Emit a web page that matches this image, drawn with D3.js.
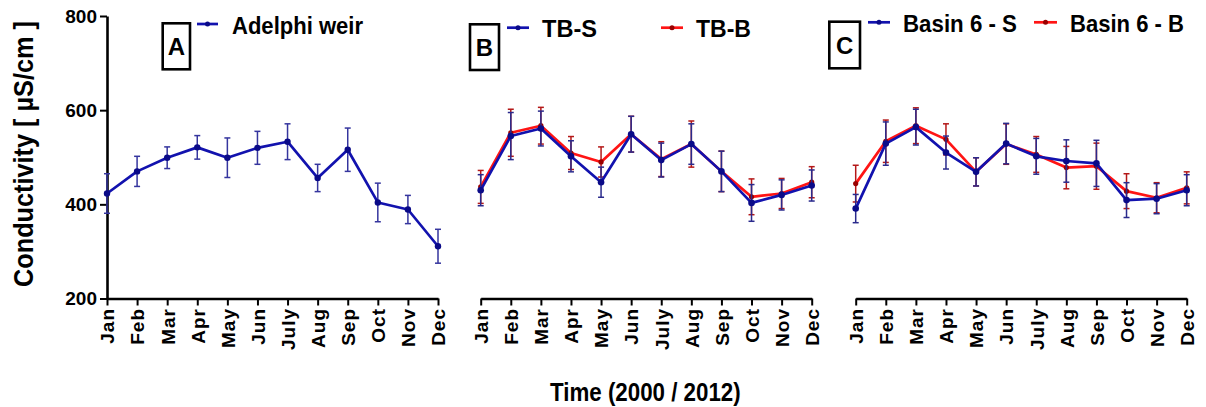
<!DOCTYPE html>
<html>
<head>
<meta charset="utf-8">
<script src="https://cdn.jsdelivr.net/npm/d3@7"></script>
<style>
  html, body { margin: 0; padding: 0; background: #fff; }
  svg { display: block; font-family: "Liberation Sans", Arial, sans-serif; font-weight: bold; }
</style>
</head>
<body>
<svg id="chart" width="1206" height="407"></svg>
<script>
// Monthly conductivity (µS/cm), mean ± error
const months = ["Jan","Feb","Mar","Apr","May","Jun","July","Aug","Sep","Oct","Nov","Dec"];
const yTicks = [200, 400, 600, 800];

const adelphi    = [423, 470, 499, 521, 499, 520, 533, 456, 516, 404, 389, 311];
const adelphiErr = [42, 32, 23, 25, 42, 35, 38, 29, 46, 41, 30, 36];

const tbS    = [430, 545, 561, 502, 447, 549, 494, 528, 470, 403, 420, 440];
const tbSErr = [33, 50, 37, 33, 32, 38, 36, 43, 43, 39, 32, 33];
const tbB    = [437, 552, 567, 509, 490, 549, 496, 528, 470, 416, 423, 447];
const tbBErr = [35, 50, 39, 35, 32, 38, 37, 49, 43, 38, 32, 33];

const basinS    = [391, 529, 564, 510, 469, 529, 502, 492, 487, 409, 412, 430];
const basinSErr = [30, 46, 38, 35, 30, 43, 38, 45, 49, 37, 32, 33];
const basinB    = [444, 534, 567, 538, 469, 528, 506, 478, 481, 428, 414, 435];
const basinBErr = [39, 45, 38, 33, 30, 43, 38, 45, 49, 37, 32, 34];

const BLUE = "#1212ae", BLUE_ERR = "#2a2a8c", BLUE_DOT = "#0a0a88";
const RED = "#ff1414", RED_ERR = "#b41818", RED_DOT = "#9a0000";

const svg = d3.select("#chart");
const y = d3.scaleLinear().domain([200, 800]).range([298.5, 16]);
const panelWidth = 331;

const panels = [
  { x0: 107, letter: "A", box: [162.7, 23.3, 27.3, 46], yAxis: true,
    series: [{ name: "Adelphi weir", v: adelphi, e: adelphiErr, c: BLUE, ec: "#35359e", dc: BLUE_DOT, r: 3.2,
               leg: { x1: 197, x2: 218, y: 24, tx: 232, ty: 34, w: 131 } }] },
  { x0: 480.7, letter: "B", box: [470, 24.3, 29, 45.7],
    series: [
      { name: "TB-B", v: tbB, e: tbBErr, c: RED, ec: RED_ERR, dc: RED_DOT, r: 2.6,
        leg: { x1: 661, x2: 683, y: 27.7, tx: 696, ty: 36.7, w: 55 } },
      { name: "TB-S", v: tbS, e: tbSErr, c: BLUE, ec: BLUE_ERR, dc: BLUE_DOT, r: 3.3,
        leg: { x1: 507, x2: 529, y: 27.7, tx: 542, ty: 36.7, w: 55 } }] },
  { x0: 855.7, letter: "C", box: [829.3, 21.7, 30.7, 46.6],
    series: [
      { name: "Basin 6 - B", v: basinB, e: basinBErr, c: RED, ec: RED_ERR, dc: RED_DOT, r: 2.6,
        leg: { x1: 1034, x2: 1057, y: 22.3, tx: 1070, ty: 31.7, w: 114 } },
      { name: "Basin 6 - S", v: basinS, e: basinSErr, c: BLUE, ec: BLUE_ERR, dc: BLUE_DOT, r: 3.3,
        leg: { x1: 868, x2: 890, y: 22.3, tx: 903, ty: 31.7, w: 114 } }] }
];

panels.forEach(p => {
  const x = d3.scalePoint().domain(months).range([p.x0, p.x0 + panelWidth]);
  const g = svg.append("g");

  // x axis with rotated month labels
  const xAxis = g.append("g")
    .attr("transform", "translate(0,298.5)")
    .call(d3.axisBottom(x).tickSize(7).tickSizeOuter(0));
  xAxis.select(".domain").attr("stroke", "#000").attr("stroke-width", 2.6);
  xAxis.selectAll(".tick line").attr("stroke", "#000").attr("stroke-width", 2);
  xAxis.selectAll(".tick text")
    .attr("transform", "rotate(-90)")
    .attr("text-anchor", "end")
    .attr("x", -9.5)
    .attr("y", 0)
    .attr("dy", "0.36em")
    .attr("fill", "#000")
    .style("font-size", "19px")
    .style("font-weight", "bold")
    .style("letter-spacing", "1px")
    .style("font-family", "'Liberation Sans', Arial, sans-serif");

  if (p.yAxis) {
    const yAxis = g.append("g")
      .attr("transform", `translate(${p.x0},0)`)
      .call(d3.axisLeft(y).tickValues(yTicks).tickSize(7).tickSizeOuter(0).tickPadding(3));
    yAxis.select(".domain").attr("stroke", "#000").attr("stroke-width", 2.6);
    yAxis.selectAll(".tick line").attr("stroke", "#000").attr("stroke-width", 2);
    yAxis.selectAll(".tick text")
      .attr("fill", "#000")
      .style("font-size", "19px")
      .style("font-weight", "bold")
      .style("font-family", "'Liberation Sans', Arial, sans-serif");
  }

  // panel letter box
  g.append("rect")
    .attr("x", p.box[0]).attr("y", p.box[1])
    .attr("width", p.box[2]).attr("height", p.box[3])
    .attr("fill", "none").attr("stroke", "#000").attr("stroke-width", 2.6);
  g.append("text")
    .attr("x", p.box[0] + p.box[2] / 2)
    .attr("y", p.box[1] + p.box[3] / 2 + 8.5)
    .attr("text-anchor", "middle")
    .style("font-size", "24px")
    .text(p.letter);

  p.series.forEach(s => {
    const pts = s.v.map((v, i) => ({ m: months[i], v, e: s.e[i] }));

    // error bars
    const eb = g.append("g");
    eb.selectAll("line.v").data(pts).join("line")
      .attr("x1", d => x(d.m)).attr("x2", d => x(d.m))
      .attr("y1", d => y(d.v + d.e)).attr("y2", d => y(d.v - d.e))
      .attr("stroke", s.ec).attr("stroke-width", 1.5);
    ["top", "bottom"].forEach(k => {
      eb.selectAll("line." + k).data(pts).join("line")
        .attr("x1", d => x(d.m) - 3).attr("x2", d => x(d.m) + 3)
        .attr("y1", d => y(k === "top" ? d.v + d.e : d.v - d.e))
        .attr("y2", d => y(k === "top" ? d.v + d.e : d.v - d.e))
        .attr("stroke", s.ec).attr("stroke-width", 1.5);
    });

    // mean line and markers
    g.append("path")
      .datum(pts)
      .attr("fill", "none")
      .attr("stroke", s.c)
      .attr("stroke-width", 2.7)
      .attr("stroke-linejoin", "round")
      .attr("d", d3.line().x(d => x(d.m)).y(d => y(d.v)));
    g.append("g").selectAll("circle").data(pts).join("circle")
      .attr("cx", d => x(d.m)).attr("cy", d => y(d.v))
      .attr("r", s.r).attr("fill", s.dc);

    // legend entry
    const L = s.leg;
    g.append("line")
      .attr("x1", L.x1).attr("x2", L.x2).attr("y1", L.y).attr("y2", L.y)
      .attr("stroke", s.c).attr("stroke-width", 2.7);
    g.append("circle")
      .attr("cx", (L.x1 + L.x2) / 2).attr("cy", L.y).attr("r", 2.5).attr("fill", s.dc);
    g.append("text")
      .attr("x", L.tx).attr("y", L.ty)
      .attr("textLength", L.w).attr("lengthAdjust", "spacingAndGlyphs")
      .style("font-size", "24px")
      .text(s.name);
  });
});

// axis titles
svg.append("text")
  .attr("transform", "translate(33.3,154) rotate(-90)")
  .attr("text-anchor", "middle")
  .attr("textLength", 266).attr("lengthAdjust", "spacingAndGlyphs")
  .style("font-size", "27px")
  .text("Conductivity [ µS/cm ]");

svg.append("text")
  .attr("x", 550).attr("y", 400.7)
  .attr("textLength", 190.7).attr("lengthAdjust", "spacingAndGlyphs")
  .style("font-size", "26px")
  .text("Time (2000 / 2012)");
</script>
</body>
</html>
